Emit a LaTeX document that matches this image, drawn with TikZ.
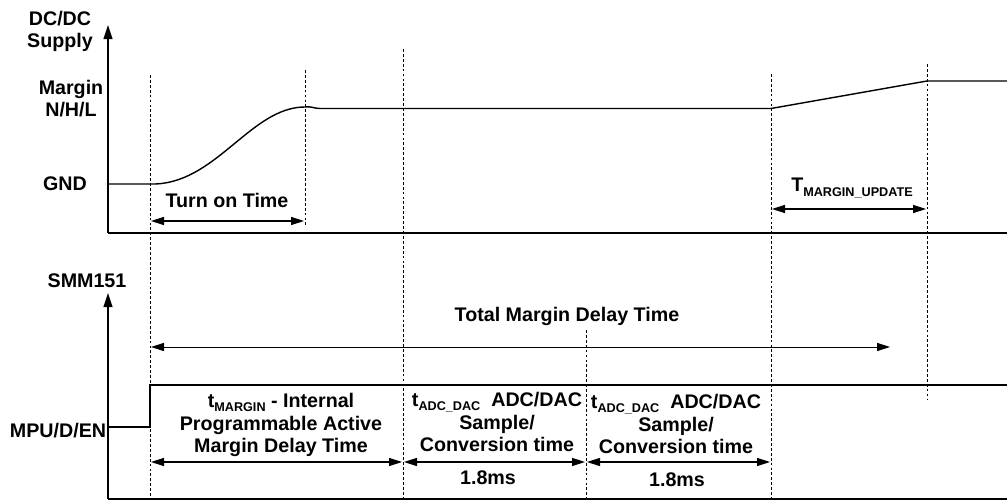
\documentclass[tikz,border=0pt]{standalone}
\usepackage{fontspec}
\setmainfont{Liberation Sans}
\usetikzlibrary{arrows.meta}

\tikzset{
  wave/.style={line width=0.8pt},
  axis/.style={line width=0.9pt},
  guide/.style={line width=0.4pt, dash pattern=on 1.6pt off 1.2pt},
  span/.style={line width=0.6pt, {Triangle[length=7.4pt,width=4.6pt]}-{Triangle[length=7.4pt,width=4.6pt]}},
  lbl/.style={font=\fontsize{11.2}{13}\selectfont\bfseries, align=center, inner sep=0pt, anchor=base},
}
\newcommand{\subtxt}[1]{\raisebox{-0.4ex}{\fontsize{7.2}{7.2}\selectfont #1}}

\begin{document}
\begin{tikzpicture}[x=0.02cm,y=-0.02cm]
\useasboundingbox (0,0) rectangle (1007,502);

% axes
\coordinate (topO) at (108,233);
\coordinate (topY) at (108,25);
\coordinate (topX) at (1007,233);
\coordinate (botO) at (108,499);
\coordinate (botY) at (108,293);
\coordinate (botX) at (1007,499);
\draw[axis,-{Triangle[length=8pt,width=5pt]}] (topO) -- (topY);
\draw[axis] (topO) -- (topX);
\draw[axis,-{Triangle[length=8pt,width=5pt]}] (botO) -- (botY);
\draw[axis] (botO) -- (botX);

% supply waveform
\coordinate (s0) at (108,184);
\coordinate (s1) at (150,184);
\coordinate (s2) at (305,107);
\coordinate (s3) at (320,108.5);
\coordinate (s4) at (771,108.5);
\coordinate (s5) at (927,81);
\coordinate (s6) at (1007,81);
\draw[wave] (s0) -- (s1) .. controls (215,186) and (250,107) .. (s2)
  .. controls (311,106) and (314,108.5) .. (s3) -- (s4) -- (s5) -- (s6);

% enable waveform
\coordinate (e0) at (108,427);
\coordinate (e1) at (150,427);
\coordinate (e2) at (150,385);
\coordinate (e3) at (1007,385);
\draw[wave] (e0) -- (e1) -- (e2) -- (e3);

% dashed guides
\draw[guide] (150,75) -- (150,499);
\draw[guide] (305,70) -- (305,226);
\draw[guide] (403,49) -- (403,499);
\draw[guide] (771,74) -- (771,499);
\draw[guide] (927,64) -- (927,400);
\draw[guide] (586,330) -- (586,502);

% time spans
\coordinate (turnA) at (151,221);
\coordinate (turnB) at (304,221);
\coordinate (updA) at (772,209);
\coordinate (updB) at (926,209);
\coordinate (totA) at (151,347);
\coordinate (totB) at (890,347);
\coordinate (marA) at (151,462);
\coordinate (marB) at (402,462);
\coordinate (adcA) at (404,462);
\coordinate (adcB) at (585,462);
\coordinate (adcC) at (587,462);
\coordinate (adcD) at (770,462);
\draw[span] (turnA) -- (turnB);
\draw[span] (updA) -- (updB);
\draw[span,line width=0.5pt] (totA) -- (totB);
\draw[span] (marA) -- (marB);
\draw[span] (adcA) -- (adcB);
\draw[span] (adcC) -- (adcD);

% labels (multi-line: base is last line)
\node[lbl] (dcdc) at (60,48) {DC/DC\\Supply};
\node[lbl] (margin) at (71,117) {Margin\\N/H/L};
\node[lbl] (gnd) at (65,191) {GND};
\node[lbl] (turnon) at (227,208) {Turn on Time};
\node[lbl] (tupd) at (852,192) {T\subtxt{MARGIN\_UPDATE}};
\node[lbl] (smm) at (87,288) {SMM151};
\node[lbl] (mpu) at (58,438) {MPU/D/EN};
\node[lbl] (total) at (567,322) {Total Margin Delay Time};
\node[lbl] (tmar) at (281,453) {t\subtxt{MARGIN} - Internal\\Programmable Active\\Margin Delay Time};
\node[lbl] (tadc1) at (497,452) {t\subtxt{ADC\_DAC}\ \ ADC/DAC\\Sample/\\Conversion time};
\node[lbl] (tadc2) at (676,454) {t\subtxt{ADC\_DAC}\ \ ADC/DAC\\Sample/\\Conversion time};
\node[lbl] (ms1) at (488,485) {1.8ms};
\node[lbl] (ms2) at (677,487) {1.8ms};
\end{tikzpicture}
\end{document}
